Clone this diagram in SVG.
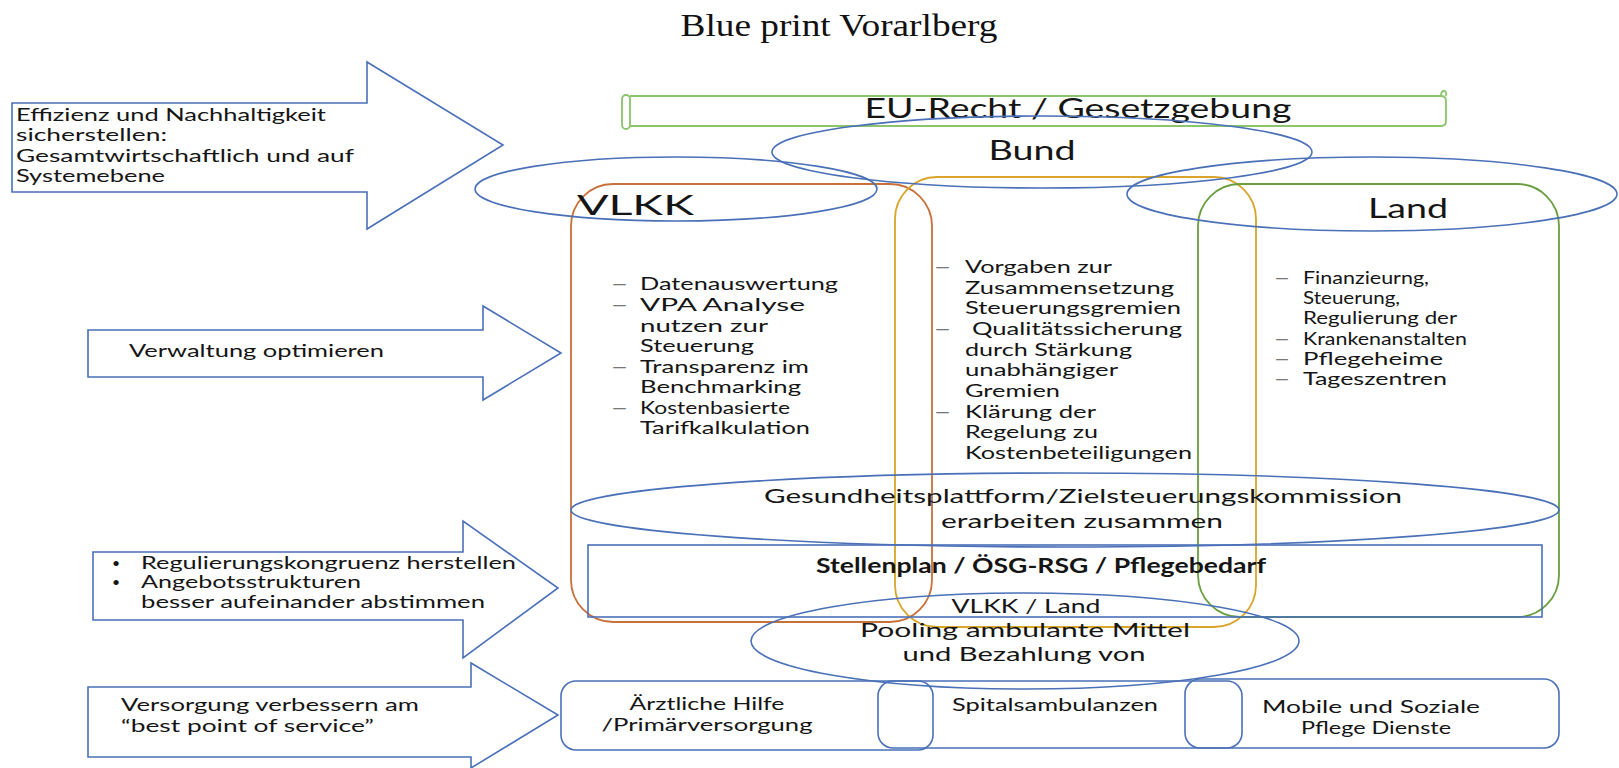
<svg xmlns="http://www.w3.org/2000/svg" width="1619" height="768" viewBox="0 0 1619 768">
<style>
.bl{fill:none;stroke:#4A70B8;stroke-width:1.6}
.or{fill:none;stroke:#C8703A;stroke-width:1.8}
.ye{fill:none;stroke:#D9A52A;stroke-width:1.8}
.gr{fill:none;stroke:#6A9E40;stroke-width:1.8}
.lg{fill:none;stroke:#8CC46C;stroke-width:1.8}
.t{font-family:Lato,"Open Sans",sans-serif;fill:#151515}
.s18{font-size:18px}
.s20{font-size:20px}
.c{text-anchor:middle}
.d{fill:#777}
</style>
<rect width="1619" height="768" fill="#fff"/>
<text x="839" y="36" text-anchor="middle" font-family="'Liberation Serif',serif" font-size="31" fill="#111" textLength="317" lengthAdjust="spacingAndGlyphs">Blue print Vorarlberg</text>

<g id="arrow-effizienz">
<path class="bl" d="M12,103 H367 V62 L503,145 L367,229 V192 H12 Z"/>
<text class="t s18" x="16" y="121" textLength="310" lengthAdjust="spacingAndGlyphs">Effizienz und Nachhaltigkeit</text>
<text class="t s18" x="16" y="141" textLength="151" lengthAdjust="spacingAndGlyphs">sicherstellen:</text>
<text class="t s18" x="16" y="162" textLength="338" lengthAdjust="spacingAndGlyphs">Gesamtwirtschaftlich  und auf</text>
<text class="t s18" x="16" y="182" textLength="149" lengthAdjust="spacingAndGlyphs">Systemebene</text>
</g>

<g id="arrow-verwaltung">
<path class="bl" d="M88,330 H483 V306 L561,353 L483,400 V377 H88 Z"/>
<text class="t s18" x="129" y="357" textLength="255" lengthAdjust="spacingAndGlyphs">Verwaltung optimieren</text>
</g>

<g id="arrow-regulierung">
<path class="bl" d="M93,552 H463 V521 L558,588 L463,658 V620 H93 Z"/>
<text class="t" font-size="14" x="112" y="568">•</text>
<text class="t s18" x="141" y="569" textLength="375" lengthAdjust="spacingAndGlyphs">Regulierungskongruenz herstellen</text>
<text class="t" font-size="14" x="112" y="587">•</text>
<text class="t s18" x="141" y="588" textLength="220" lengthAdjust="spacingAndGlyphs">Angebotsstrukturen</text>
<text class="t s18" x="141" y="608" textLength="344" lengthAdjust="spacingAndGlyphs">besser aufeinander abstimmen</text>
</g>

<g id="arrow-versorgung">
<path class="bl" d="M88,687 H471 V663 L558,715 L471,768 V757 H88 Z"/>
<text class="t s18" x="121" y="711" textLength="298" lengthAdjust="spacingAndGlyphs">Versorgung verbessern am</text>
<text class="t s18" x="121" y="732" textLength="253" lengthAdjust="spacingAndGlyphs">“best point of service”</text>
</g>

<g id="eu-recht">
<path class="lg" d="M630,96 H1441 Q1446,96 1446,101 V121 Q1446,126 1441,126 H630"/>
<rect class="lg" x="622" y="95" width="8" height="34" rx="4"/>
<path class="lg" d="M1441,96 Q1441,91 1444,91 Q1447,91 1446,96"/>
<text class="t" x="1078" y="118" font-size="26" text-anchor="middle" textLength="427" lengthAdjust="spacingAndGlyphs">EU-Recht / Gesetzgebung</text>
</g>

<g id="vlkk">
<rect class="or" x="571" y="184" width="361" height="438" rx="42"/>
<ellipse class="bl" cx="676" cy="189" rx="201" ry="32"/>
<text class="t" x="577" y="215" font-size="27" textLength="117" lengthAdjust="spacingAndGlyphs">VLKK</text>
<g class="t s18">
<text class="d" x="612" y="290" textLength="15" lengthAdjust="spacingAndGlyphs">—</text>
<text x="640" y="290" textLength="198" lengthAdjust="spacingAndGlyphs">Datenauswertung</text>
<text class="d" x="612" y="311" textLength="15" lengthAdjust="spacingAndGlyphs">—</text>
<text x="640" y="311" textLength="165" lengthAdjust="spacingAndGlyphs">VPA Analyse</text>
<text x="640" y="332" textLength="128" lengthAdjust="spacingAndGlyphs">nutzen zur</text>
<text x="640" y="352" textLength="114" lengthAdjust="spacingAndGlyphs">Steuerung</text>
<text class="d" x="612" y="373" textLength="15" lengthAdjust="spacingAndGlyphs">—</text>
<text x="640" y="373" textLength="169" lengthAdjust="spacingAndGlyphs">Transparenz im</text>
<text x="640" y="393" textLength="161" lengthAdjust="spacingAndGlyphs">Benchmarking</text>
<text class="d" x="612" y="414" textLength="15" lengthAdjust="spacingAndGlyphs">—</text>
<text x="640" y="414" textLength="150" lengthAdjust="spacingAndGlyphs">Kostenbasierte</text>
<text x="640" y="434" textLength="170" lengthAdjust="spacingAndGlyphs">Tarifkalkulation</text>
</g>
</g>

<g id="bund">
<rect class="ye" x="895" y="177" width="361" height="450" rx="42"/>
<ellipse class="bl" cx="1042" cy="152" rx="270" ry="36"/>
<text class="t" x="1032" y="160" font-size="26" text-anchor="middle" textLength="87" lengthAdjust="spacingAndGlyphs">Bund</text>
<g class="t s18">
<text class="d" x="935" y="273" textLength="15" lengthAdjust="spacingAndGlyphs">—</text>
<text x="965" y="273" textLength="147" lengthAdjust="spacingAndGlyphs">Vorgaben zur</text>
<text x="965" y="294" textLength="209" lengthAdjust="spacingAndGlyphs">Zusammensetzung</text>
<text x="965" y="314" textLength="216" lengthAdjust="spacingAndGlyphs">Steuerungsgremien</text>
<text class="d" x="935" y="335" textLength="15" lengthAdjust="spacingAndGlyphs">—</text>
<text x="972" y="335" textLength="210" lengthAdjust="spacingAndGlyphs">Qualitätssicherung</text>
<text x="965" y="356" textLength="167" lengthAdjust="spacingAndGlyphs">durch Stärkung</text>
<text x="965" y="376" textLength="153" lengthAdjust="spacingAndGlyphs">unabhängiger</text>
<text x="965" y="397" textLength="95" lengthAdjust="spacingAndGlyphs">Gremien</text>
<text class="d" x="935" y="418" textLength="15" lengthAdjust="spacingAndGlyphs">—</text>
<text x="965" y="418" textLength="131" lengthAdjust="spacingAndGlyphs">Klärung der</text>
<text x="965" y="438" textLength="133" lengthAdjust="spacingAndGlyphs">Regelung zu</text>
<text x="965" y="459" textLength="227" lengthAdjust="spacingAndGlyphs">Kostenbeteiligungen</text>
</g>
</g>

<g id="land">
<rect class="gr" x="1198" y="184" width="361" height="433" rx="42"/>
<ellipse class="bl" cx="1372" cy="194" rx="245" ry="37"/>
<text class="t" x="1368" y="218" font-size="27" textLength="80" lengthAdjust="spacingAndGlyphs">Land</text>
<g class="t s18">
<text class="d" x="1275" y="284" textLength="14" lengthAdjust="spacingAndGlyphs">—</text>
<text x="1303" y="284" textLength="126" lengthAdjust="spacingAndGlyphs">Finanzieurng,</text>
<text x="1303" y="304" textLength="97" lengthAdjust="spacingAndGlyphs">Steuerung,</text>
<text x="1303" y="324" textLength="154" lengthAdjust="spacingAndGlyphs">Regulierung der</text>
<text class="d" x="1275" y="345" textLength="14" lengthAdjust="spacingAndGlyphs">—</text>
<text x="1303" y="345" textLength="164" lengthAdjust="spacingAndGlyphs">Krankenanstalten</text>
<text class="d" x="1275" y="365" textLength="14" lengthAdjust="spacingAndGlyphs">—</text>
<text x="1303" y="365" textLength="140" lengthAdjust="spacingAndGlyphs">Pflegeheime</text>
<text class="d" x="1275" y="385" textLength="14" lengthAdjust="spacingAndGlyphs">—</text>
<text x="1303" y="385" textLength="144" lengthAdjust="spacingAndGlyphs">Tageszentren</text>
</g>
</g>

<g id="gesundheitsplattform">
<ellipse class="bl" cx="1065" cy="510" rx="494" ry="37"/>
<text class="t s20 c" x="1083" y="503" textLength="638" lengthAdjust="spacingAndGlyphs">Gesundheitsplattform/Zielsteuerungskommission</text>
<text class="t s20 c" x="1082" y="528" textLength="282" lengthAdjust="spacingAndGlyphs">erarbeiten zusammen</text>
</g>

<g id="stellenplan">
<rect class="bl" x="588" y="545" width="954" height="72"/>
<text class="t s20 c" x="1041" y="573" font-weight="bold" textLength="450" lengthAdjust="spacingAndGlyphs">Stellenplan / ÖSG-RSG / Pflegebedarf</text>
<text class="t s20 c" x="1026" y="613" textLength="149" lengthAdjust="spacingAndGlyphs">VLKK / Land</text>
</g>

<g id="pooling">
<ellipse class="bl" cx="1025" cy="641" rx="274" ry="48"/>
<text class="t s20 c" x="1025" y="637" textLength="330" lengthAdjust="spacingAndGlyphs">Pooling ambulante Mittel</text>
<text class="t s20 c" x="1024" y="661" textLength="243" lengthAdjust="spacingAndGlyphs">und Bezahlung von</text>
</g>

<g id="aerztliche-hilfe">
<rect class="bl" x="561" y="681" width="372" height="69" rx="15"/>
<text class="t s18 c" x="707" y="710" textLength="155" lengthAdjust="spacingAndGlyphs">Ärztliche Hilfe</text>
<text class="t s18 c" x="707" y="731" textLength="211" lengthAdjust="spacingAndGlyphs">/Primärversorgung</text>
</g>
<g id="spitalsambulanzen">
<rect class="bl" x="878" y="681" width="364" height="67" rx="15"/>
<text class="t s18 c" x="1055" y="711" textLength="206" lengthAdjust="spacingAndGlyphs">Spitalsambulanzen</text>
</g>
<g id="mobile-pflege">
<rect class="bl" x="1185" y="679" width="374" height="69" rx="15"/>
<text class="t s18 c" x="1371" y="713" textLength="218" lengthAdjust="spacingAndGlyphs">Mobile  und Soziale</text>
<text class="t s18 c" x="1376" y="734" textLength="150" lengthAdjust="spacingAndGlyphs">Pflege Dienste</text>
</g>
<g id="connectors"></g>
</svg>
